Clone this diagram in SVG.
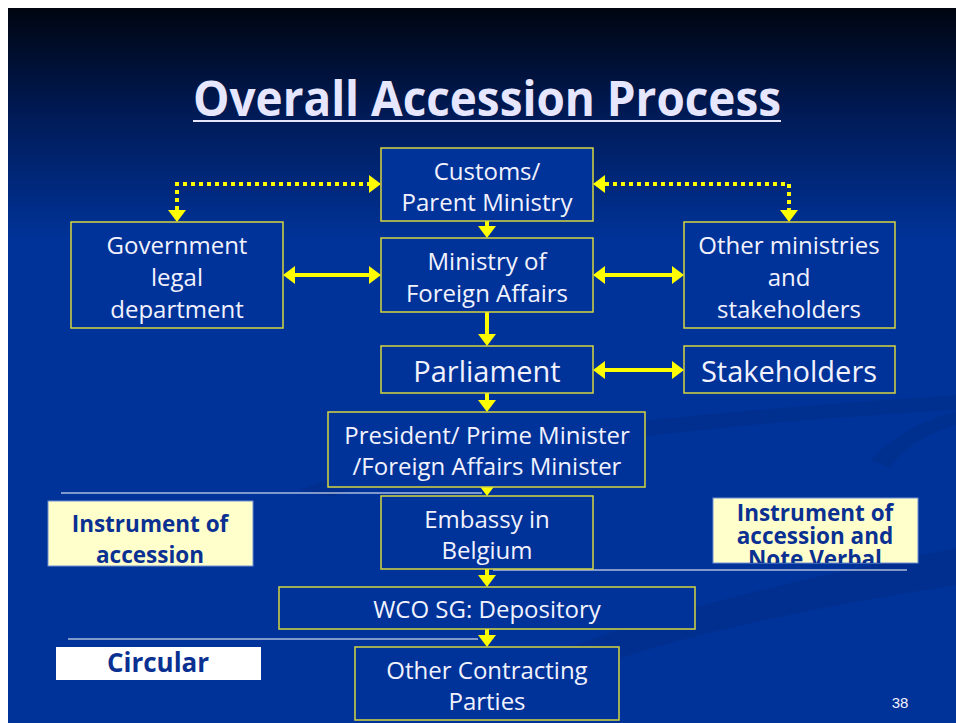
<svg xmlns="http://www.w3.org/2000/svg" width="956" height="723" viewBox="0 0 956 723">
<defs>
<linearGradient id="bg" x1="0" y1="8" x2="0" y2="240" gradientUnits="userSpaceOnUse">
<stop offset="0" stop-color="#000510"/>
<stop offset="0.45" stop-color="#001a55"/>
<stop offset="1" stop-color="#003399"/>
</linearGradient>
<marker id="ah" viewBox="0 0 12 18" refX="8" refY="9" markerWidth="12" markerHeight="18" markerUnits="userSpaceOnUse" orient="auto-start-reverse">
<path d="M0,0 L12,9 L0,18 z" fill="#ffff00"/>
</marker>
<clipPath id="clipR"><rect x="713" y="498" width="205" height="65"/></clipPath>
<style>
.box{fill:#003399;stroke:#d6d640;stroke-width:1.5}
.t{font-family:"Open Sans","Noto Sans",sans-serif;fill:#f2f2ff;text-anchor:middle;dominant-baseline:central}
.t22{font-size:24px}
.t28{font-size:29px}
.lab{fill:#ffffcc;stroke:#6f8fcf;stroke-width:1}
.lt{font-family:"Open Sans","Noto Sans",sans-serif;font-weight:bold;fill:#0a3192;text-anchor:middle;dominant-baseline:central;font-size:22.5px}
.c{fill:none;stroke:#ffff00;stroke-width:4}
.d{fill:none;stroke:#ffff00;stroke-width:4;stroke-dasharray:4 4}
.wl{stroke:#ffffff;stroke-width:1.2}
</style>
</defs>
<rect x="0" y="0" width="956" height="723" fill="#ffffff"/>
<rect x="8" y="8" width="948" height="715" fill="url(#bg)"/>
<g opacity="0.22" fill="#002670">
<path d="M300,490 C420,440 650,415 956,395 L956,410 C700,425 480,450 330,497 Z"/>
<path d="M560,650 C700,600 820,575 956,548 L956,585 C830,605 700,630 600,665 Z"/>
<path d="M870,460 C900,430 930,418 956,412 L956,425 C930,433 905,445 890,468 Z"/>
</g>
<g id="title">
<text x="487" y="116" font-family="Open Sans,'Noto Sans',sans-serif" font-weight="bold" font-size="48" fill="#e6e6ff" text-anchor="middle" textLength="588" lengthAdjust="spacingAndGlyphs">Overall Accession Process</text>
<line x1="193" y1="121" x2="781" y2="121" stroke="#e6e6ff" stroke-width="2"/>
</g>
<g id="separators">
<line class="wl" x1="61" y1="493" x2="482" y2="493"/>
<line class="wl" x1="493" y1="570" x2="907" y2="570"/>
<line class="wl" x1="68" y1="639" x2="478" y2="639"/>
</g>
<g id="connectors">
<line class="c" x1="487" y1="221" x2="487" y2="234" marker-end="url(#ah)"/>
<line class="c" x1="487" y1="312" x2="487" y2="342" marker-end="url(#ah)" stroke-width="5"/>
<line class="c" x1="487" y1="393" x2="487" y2="408" marker-end="url(#ah)"/>
<line class="c" x1="487" y1="486" x2="487" y2="492" marker-end="url(#ah)"/>
<line class="c" x1="487" y1="569" x2="487" y2="583" marker-end="url(#ah)"/>
<line class="c" x1="487" y1="629" x2="487" y2="643" marker-end="url(#ah)"/>
<line class="c" x1="287" y1="275" x2="377" y2="275" marker-start="url(#ah)" marker-end="url(#ah)"/>
<line class="c" x1="597" y1="275" x2="680" y2="275" marker-start="url(#ah)" marker-end="url(#ah)"/>
<line class="c" x1="597" y1="370" x2="680" y2="370" marker-start="url(#ah)" marker-end="url(#ah)"/>
<path class="d" d="M177,218 L177,184 L377,184" marker-start="url(#ah)" marker-end="url(#ah)"/>
<path class="d" d="M597,184 L789,184 L789,218" marker-start="url(#ah)" marker-end="url(#ah)"/>
</g>
<g id="customs"><rect class="box" x="381" y="148" width="212" height="73"/><text class="t t22" x="487" y="170">Customs/</text><text class="t t22" x="487" y="201">Parent Ministry</text></g>
<g id="mfa"><rect class="box" x="381" y="238" width="212" height="74"/><text class="t t22" x="487" y="260">Ministry of</text><text class="t t22" x="487" y="292">Foreign Affairs</text></g>
<g id="gov"><rect class="box" x="71" y="222" width="212" height="106"/><text class="t t22" x="177" y="244">Government</text><text class="t t22" x="177" y="276">legal</text><text class="t t22" x="177" y="308">department</text></g>
<g id="other"><rect class="box" x="684" y="222" width="211" height="106"/><text class="t t22" x="789" y="244">Other ministries</text><text class="t t22" x="789" y="276">and</text><text class="t t22" x="789" y="308">stakeholders</text></g>
<g id="parliament"><rect class="box" x="381" y="346" width="212" height="47"/><text class="t t28" x="487" y="370">Parliament</text></g>
<g id="stakeholders"><rect class="box" x="684" y="346" width="211" height="47"/><text class="t t28" x="789" y="370">Stakeholders</text></g>
<g id="president"><rect class="box" x="328" y="412" width="317" height="75"/><text class="t t22" x="487" y="434">President/ Prime Minister</text><text class="t t22" x="487" y="465">/Foreign Affairs Minister</text></g>
<g id="embassy"><rect class="box" x="381" y="496" width="212" height="73"/><text class="t t22" x="487" y="518">Embassy in</text><text class="t t22" x="487" y="549">Belgium</text></g>
<g id="wco"><rect class="box" x="279" y="587" width="416" height="42"/><text class="t t22" x="487" y="608">WCO SG: Depository</text></g>
<g id="parties"><rect class="box" x="355" y="647" width="264" height="73"/><text class="t t22" x="487" y="669">Other Contracting</text><text class="t t22" x="487" y="700">Parties</text></g>
<g id="label-left"><rect class="lab" x="48" y="501" width="205" height="65"/><text class="lt" x="150" y="523">Instrument of</text><text class="lt" x="150" y="554">accession</text></g>
<g id="label-right"><rect class="lab" x="713" y="498" width="205" height="65"/><g clip-path="url(#clipR)"><text class="lt" x="815" y="512">Instrument of</text><text class="lt" x="815" y="535">accession and</text><text class="lt" x="815" y="558">Note Verbal</text></g></g>
<g id="label-circular"><rect x="56" y="647" width="205" height="33" fill="#ffffff"/><text class="lt" x="158" y="662" style="font-size:26px">Circular</text></g>
<text x="900" y="708" font-family="Liberation Sans,Arial,sans-serif" font-size="15" fill="#f0f0ff" text-anchor="middle">38</text>
</svg>
